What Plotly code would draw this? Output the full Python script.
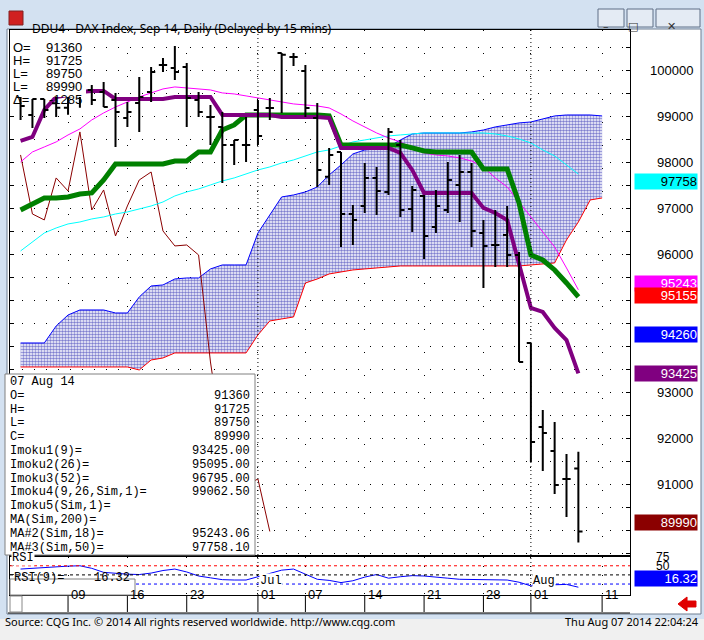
import plotly.graph_objects as go
import pandas as pd

# ---------------- data ----------------
dates = pd.bdate_range("2014-06-03", "2014-08-11")  # trading-day slots (50)
opens = [99435,99043,99391,99300,99200,99450,99587,99543,99370,98978,99304,99543,100130,100065,100087,99370,99000,98783,98391,98391,99152,99196,100391,100304,100000,98978,97700,98239,96891,97065,97674,97370,98391,97000,97283,96609,96978,97522,97804,96478,96217,96435,96000,94087,92261,91739,91130,91360]
highs = [99435,99391,99391,99500,99600,99700,99696,99761,99522,99326,99870,100087,100283,100543,100174,99543,99261,99109,98500,99000,99370,99413,100391,100391,100130,99304,98326,98239,97087,98000,97913,98761,98500,97500,97304,97413,98022,98174,98000,96761,96978,97065,96065,94087,92630,92369,91674,91725]
lows = [98935,98761,98978,99000,99050,99200,99261,99217,98348,98783,98674,99326,99978,99804,98783,99000,98391,97565,97956,98022,98391,98935,99087,100109,99000,97478,97522,96174,96217,96913,96870,97304,96826,96500,95913,96478,96913,96717,96174,95283,95739,95739,93674,91500,91304,90804,90304,89750]
closes = [99239,99391,99152,99200,99450,99500,99370,99217,99109,99109,99435,99978,100130,99978,99413,99109,99000,98391,98500,98391,98587,99196,100350,100304,99196,97848,98174,96891,96761,97674,97391,98674,96978,97413,96413,97065,97630,97804,96522,96196,96217,96000,93674,91935,92130,91000,91130,89990]
tenkan = [98478,98565,99152,99435,99478,99543,99565,99565,99391,99391,99391,99391,99391,99435,99435,99435,99435,99043,99043,99043,99043,99043,99000,99000,99000,99000,98978,98326,98326,98326,98326,98326,98217,97848,97348,97348,97348,97348,97348,97022,96913,96761,95826,94848,94761,94413,94152,93425]
kijun = [96978,97109,97239,97239,97261,97326,97348,97630,97978,97978,97978,97978,97978,98043,98043,98239,98239,98717,98826,99043,99043,99065,99043,99043,99043,99043,99022,98391,98391,98391,98391,98391,98391,98326,98261,98239,98239,98239,98239,97870,97870,97870,97130,96000,95891,95674,95391,95087]
ma18 = [98022,98239,98348,98457,98609,98739,98935,99087,99217,99326,99435,99522,99609,99652,99630,99609,99587,99522,99500,99457,99413,99370,99326,99283,99261,99239,99196,99065,98913,98783,98652,98543,98457,98326,98217,98174,98152,98109,98043,97913,97674,97478,97152,96804,96500,96174,95717,95243]
ma50 = [96087,96283,96478,96587,96674,96717,96783,96826,96891,96935,97000,97065,97152,97283,97370,97435,97522,97609,97674,97761,97848,97913,98000,98065,98152,98239,98283,98370,98457,98500,98543,98587,98609,98630,98652,98652,98652,98652,98652,98652,98630,98587,98522,98435,98283,98152,97957,97758]
span_a = [94087,94087,94087,94456,94695,94804,94804,94804,94739,94739,95087,95326,95348,95478,95500,95500,95696,95783,95783,95783,96478,96870,97261,97304,97370,97478,97739,97956,98196,98283,98304,98348,98500,98630,98652,98652,98652,98652,98674,98717,98783,98826,98870,98891,98957,99022,99043,99043,99043,99022]
span_b = [93565]*10 + [93500,93717,93761] + [93870]*7 + [94261,94565,94609,94652,95391,95478,95587,95630,95674,95696,95717,95739] + [95761]*11 + [95783,95804,95826,96326,96717,97196,97239]
rsi = [66,68,72,73,74,75,68,57,54,52,51,55,62,66,58,47,42,37,36,36,45,53,63,66,52,38,35,29,34,44,51,41,45,48,47,45,41,38,38,38,37,36,30,20,22,24,24,16.32]
tick_dates = ["2014-06-09","2014-06-16","2014-06-23","2014-07-01","2014-07-07","2014-07-14","2014-07-21","2014-07-28","2014-08-01","2014-08-11"]
tick_text = ["09","16","23","01","07","14","21","28","01","11"]
month_dates = ["2014-07-01","2014-08-01"]
month_text = ["Jul","Aug"]
price_labels = [100000, 99000, 98000, 97000, 96000, 93000, 92000, 91000]

n = len(closes)
xi = list(range(n))
xc = list(range(len(span_a)))
chikou = closes[26:]
dpos = {d.strftime("%Y-%m-%d"): i for i, d in enumerate(dates)}
tickvals = [dpos[d] for d in tick_dates]
monthvals = [dpos[d] for d in month_dates]

W, H = 704, 640
def X(px): return px / W
def Y(py): return 1 - py / H

fig = go.Figure()
fig.add_trace(go.Scatter(x=xc, y=span_b, mode="lines", line=dict(color="#ff0000", width=1)))
fig.add_trace(go.Scatter(x=xc, y=span_a, mode="lines", line=dict(color="#0000ff", width=1),
                         fill="tonexty", fillcolor="rgba(0,0,0,0)",
                         fillpattern=dict(shape=".", fgcolor="#0000a0", bgcolor="white", size=3, solidity=0.55)))
fig.add_trace(go.Scatter(x=xi[:len(chikou)], y=chikou, mode="lines", line=dict(color="#8b0000", width=1)))
fig.add_trace(go.Scatter(x=xi, y=ma50, mode="lines", line=dict(color="#00ffff", width=1)))
fig.add_trace(go.Scatter(x=xi, y=ma18, mode="lines", line=dict(color="#ff00ff", width=1)))
fig.add_trace(go.Scatter(x=xi, y=kijun, mode="lines", line=dict(color="#008000", width=5)))
fig.add_trace(go.Scatter(x=xi, y=tenkan, mode="lines", line=dict(color="#800080", width=4)))
fig.add_trace(go.Ohlc(x=xi, open=opens, high=highs, low=lows, close=closes, tickwidth=0.35,
                      xaxis="x3", yaxis="y3",
                      increasing=dict(line=dict(color="black", width=2)),
                      decreasing=dict(line=dict(color="black", width=2))))
fig.add_trace(go.Scatter(x=xi, y=rsi, mode="lines", line=dict(color="#0000ff", width=1),
                         xaxis="x2", yaxis="y2"))

xr = [-0.89, 51.35]
yr = [89478, 100890]
fig.update_layout(
    width=W, height=H, margin=dict(l=0, r=0, t=0, b=0), showlegend=False,
    paper_bgcolor="#d3e1f1", plot_bgcolor="white",
    xaxis=dict(domain=[X(10), X(630)], range=xr, anchor="y", showticklabels=False,
               tickvals=tickvals, showgrid=True, gridcolor="black", griddash="1px,22px",
               zeroline=False, showline=True, linecolor="black", mirror=True, linewidth=1),
    yaxis=dict(domain=[Y(555), Y(30)], range=yr, dtick=500, showticklabels=False,
               showgrid=True, gridcolor="black", griddash="1px,11px", zeroline=False,
               ticks="inside", ticklen=4, tickcolor="black", showline=True, linecolor="black",
               mirror="ticks", linewidth=1),
    xaxis3=dict(overlaying="x", range=xr, visible=False, rangeslider=dict(visible=False), anchor="y3"),
    yaxis3=dict(overlaying="y", range=yr, visible=False, anchor="x3"),
    xaxis2=dict(domain=[X(10), X(630)], range=xr, anchor="y2", showticklabels=False,
                tickvals=tickvals, showgrid=True, gridcolor="black", griddash="1px,8px",
                zeroline=False, showline=True, linecolor="black", mirror=True, linewidth=1),
    yaxis2=dict(domain=[Y(595), Y(557)], range=[-5, 99], showticklabels=False, showgrid=False,
                zeroline=False, showline=True, linecolor="black", mirror=True,
                tickvals=[75, 50], ticks="inside", ticklen=4),
)

shapes = []
ann = []
shapes.append(dict(type="rect", xref="paper", yref="paper", x0=X(7), x1=X(701), y0=Y(614), y1=Y(29),
                   fillcolor="white", line=dict(color="#6f7f92", width=1), layer="below"))
shapes.append(dict(type="rect", xref="paper", yref="paper", x0=0, x1=1, y0=0, y1=Y(619),
                   fillcolor="#f0f0f0", line=dict(width=0), layer="below"))
for mv in monthvals:
    shapes.append(dict(type="line", xref="x", yref="paper", x0=mv, x1=mv, y0=Y(595), y1=Y(30),
                       line=dict(color="black", width=1, dash="1px,3px")))
for lv, col in [(75, "#ff0000"), (50, "black"), (25, "#0000ff")]:
    shapes.append(dict(type="line", xref="paper", yref="y2", x0=X(10), x1=X(630), y0=lv, y1=lv,
                       line=dict(color=col, width=1, dash="3px,3px")))
shapes.append(dict(type="line", xref="paper", yref="paper", x0=X(8), x1=X(630), y0=Y(613), y1=Y(613),
                   line=dict(color="black", width=1)))
shapes.append(dict(type="rect", xref="paper", yref="paper", x0=X(10), x1=X(22), y0=Y(612), y1=Y(596),
                   fillcolor="white", line=dict(color="#888", width=1)))
for tv, tt in zip(tickvals, tick_text):
    shapes.append(dict(type="line", xref="x", yref="paper", x0=tv, x1=tv, y0=Y(612), y1=Y(596),
                       line=dict(color="black", width=1)))
    ann.append(dict(x=tv, y=Y(604), xref="x", yref="paper", text=tt, showarrow=False, xanchor="left",
                    xshift=1, font=dict(family="Liberation Sans", size=13, color="black")))

FS = dict(family="Liberation Sans", size=13, color="black")
shapes.append(dict(type="rect", xref="paper", yref="paper", x0=X(10), x1=X(86), y0=Y(97), y1=Y(31),
                   fillcolor="white", line=dict(width=0), layer="above"))
for i, (lab, val) in enumerate([("O=", "91360"), ("H=", "91725"), ("L=", "89750"), ("L=", "89990"), ("Δ=", "-1285")]):
    yy = Y(38 + i * 13)
    ann.append(dict(x=X(11), y=yy, xref="paper", yref="paper", text=lab, showarrow=False, xanchor="left", font=FS))
    ann.append(dict(x=X(84), y=yy, xref="paper", yref="paper", text=val, showarrow=False, xanchor="right", font=FS))

shapes.append(dict(type="rect", xref="paper", yref="paper", x0=X(5), x1=X(255), y0=Y(555), y1=Y(374),
                   fillcolor="white", line=dict(color="#808080", width=1), layer="above"))
FM = dict(family="Liberation Mono", size=12, color="black")
info = [("07 Aug 14", ""), ("O=", "91360"), ("H=", "91725"), ("L=", "89750"), ("C=", "89990"),
        ("Imoku1(9)=", "93425.00"), ("Imoku2(26)=", "95095.00"), ("Imoku3(52)=", "96795.00"),
        ("Imoku4(9,26,Sim,1)=", "99062.50"), ("Imoku5(Sim,1)=", ""), ("MA(Sim,200)=", ""),
        ("MA#2(Sim,18)=", "95243.06"), ("MA#3(Sim,50)=", "97758.10")]
for i, (lab, val) in enumerate(info):
    yy = Y(382 + i * 13.8)
    ann.append(dict(x=X(8), y=yy, xref="paper", yref="paper", text=lab, showarrow=False, xanchor="left",
                    yanchor="middle", font=FM))
    if val:
        ann.append(dict(x=X(252), y=yy, xref="paper", yref="paper", text=val, showarrow=False, xanchor="right",
                        yanchor="middle", font=FM))

ann.append(dict(x=X(11), y=Y(566), xref="paper", yref="paper", text="RSI", showarrow=False, xanchor="left",
                font=FM, bgcolor="white", borderpad=0))
shapes.append(dict(type="rect", xref="paper", yref="paper", x0=X(10), x1=X(135), y0=Y(595), y1=Y(579),
                   fillcolor="white", line=dict(color="#808080", width=1), layer="above"))
ann.append(dict(x=X(12), y=Y(587), xref="paper", yref="paper", text="RSI(9)=", showarrow=False, xanchor="left", font=FM))
ann.append(dict(x=X(132), y=Y(587), xref="paper", yref="paper", text="16.32", showarrow=False, xanchor="right", font=FM))
for mv, mt in zip(monthvals, month_text):
    ann.append(dict(x=mv, y=Y(589), xref="x", yref="paper", text=mt, showarrow=False, xanchor="left",
                    xshift=1, font=FM, bgcolor="white", borderpad=0))

for p in price_labels:
    ann.append(dict(x=X(695), y=p, xref="paper", yref="y", text=f"{p}", showarrow=False, xanchor="right", font=FS))
ann.append(dict(x=X(672), y=Y(566), xref="paper", yref="paper", text="75", showarrow=False, xanchor="right",
                font=dict(family="Liberation Sans", size=12, color="black")))
ann.append(dict(x=X(672), y=Y(575), xref="paper", yref="paper", text="50", showarrow=False, xanchor="right",
                font=dict(family="Liberation Sans", size=12, color="black")))
boxes = [("95243", "#ff00ff", "white", 283), ("97758", "#00ffff", "black", 173), ("95155", "#ff0000", "white", 295),
         ("94260", "#0000ff", "white", 334), ("93425", "#800080", "white", 373), ("89990", "#8b0000", "white", 531),
         ("16.32", "#0000ff", "white", 587)]
for t, bg, fc, py in boxes:
    ann.append(dict(x=X(634), y=Y(py), xref="paper", yref="paper", text=t, showarrow=False, xanchor="left",
                    width=62, height=15, align="right", bgcolor=bg, borderpad=0,
                    font=dict(family="Liberation Sans", size=13, color=fc)))

shapes.append(dict(type="rect", xref="paper", yref="paper", x0=X(9), x1=X(23), y0=Y(25), y1=Y(11),
                   fillcolor="#d02020", line=dict(color="#802020", width=1)))
ann.append(dict(x=X(30), y=Y(18), xref="paper", yref="paper", text="DDU4 - DAX Index, Sep 14, Daily (Delayed by 15 mins)",
                showarrow=False, xanchor="left", font=dict(family="Noto Sans", size=12, color="black")))
for x0, x1, g in [(598, 624, "–"), (627, 653, "□"), (656, 700, "✕")]:
    shapes.append(dict(type="rect", xref="paper", yref="paper", x0=X(x0), x1=X(x1), y0=Y(27), y1=Y(9),
                       fillcolor="#e4ebf4", line=dict(color="#5f6f86", width=1)))
    ann.append(dict(x=X((x0 + x1) / 2), y=Y(18), xref="paper", yref="paper", text=g, showarrow=False,
                    font=dict(family="DejaVu Sans", size=11, color="#333")))

pts = [(678, 604), (687, 597), (687, 601), (696, 601), (696, 607), (687, 607), (687, 611)]
path = "M " + " L ".join(f"{X(a):.4f},{Y(b):.4f}" for a, b in pts) + " Z"
shapes.append(dict(type="path", xref="paper", yref="paper", path=path, fillcolor="#e00000", line=dict(color="#e00000", width=1)))

FF = dict(family="Noto Sans", size=11, color="black")
ann.append(dict(x=X(3), y=Y(631), xref="paper", yref="paper", text="Source: CQG Inc. © 2014 All rights reserved worldwide. http://www.cqg.com",
                showarrow=False, xanchor="left", font=FF))
ann.append(dict(x=X(701), y=Y(631), xref="paper", yref="paper", text="Thu Aug 07 2014 22:04:24",
                showarrow=False, xanchor="right", font=FF))

fig.update_layout(shapes=shapes, annotations=ann)
fig.write_html("out.html", config={"displayModeBar": False},
               post_script="document.body.style.margin='0';document.body.style.overflow='hidden';")
